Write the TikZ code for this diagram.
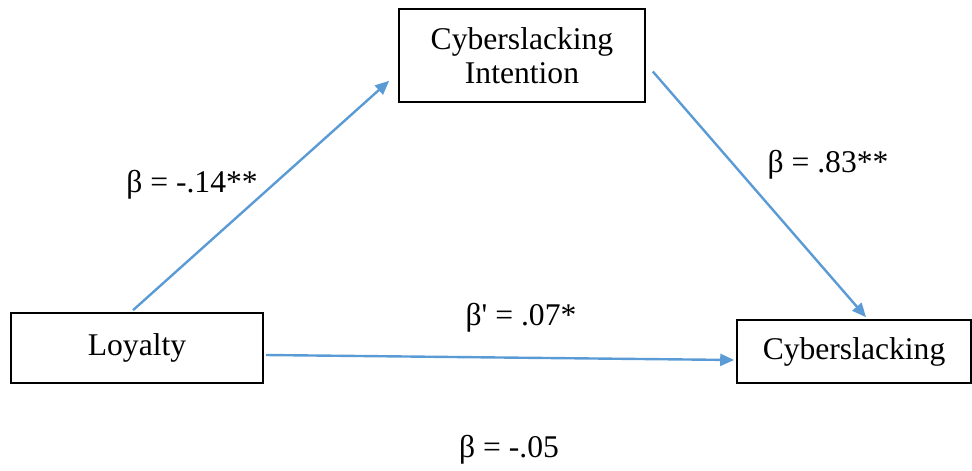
\documentclass[tikz,border=0pt]{standalone}
\usepackage{fontspec}
\setmainfont{Liberation Serif}
\usetikzlibrary{arrows.meta}
\definecolor{pathblue}{RGB}{91,155,213}
\begin{document}
\begin{tikzpicture}[x=0.5pt,y=-0.5pt,>={Triangle[length=7pt,width=6pt]},
    var/.style={draw,line width=0.8pt,align=center,inner sep=0pt,font=\fontsize{15.8}{17}\selectfont},
    path/.style={->,color=pathblue,line width=1.2pt},
    coef/.style={font=\fontsize{15.8}{17}\selectfont}]
    \useasboundingbox (0,0) rectangle (972,470);
    % variables
    \node[var,minimum width=126pt,minimum height=35pt] (loyalty) at (137,348) {Loyalty};
    \node[var,minimum width=123pt,minimum height=46.5pt] (intention) at (522,55.5) {Cyberslacking\\Intention};
    \node[var,minimum width=117pt,minimum height=31.5pt] (slacking) at (854,351.5) {Cyberslacking};
    % paths
    \draw[path] ([shift={(-4,-2)}]loyalty.north) -- ([shift={(-9,-22)}]intention.south west);
    \draw[path] ([shift={(7,16)}]intention.east) -- ([shift={(12,-2)}]slacking.north);
    \draw[path] ([shift={(2,7)}]loyalty.east) -- ([shift={(-2,8.5)}]slacking.west);
    % coefficients
    \node[coef] (a) at (192,185) {β = -.14**};
    \node[coef] (b) at (828,165) {β = .83**};
    \node[coef] (c) at (521,318) {β\textquotesingle{} = .07*};
    \node[coef] (total) at (509,450) {β = -.05};
\end{tikzpicture}
\end{document}
